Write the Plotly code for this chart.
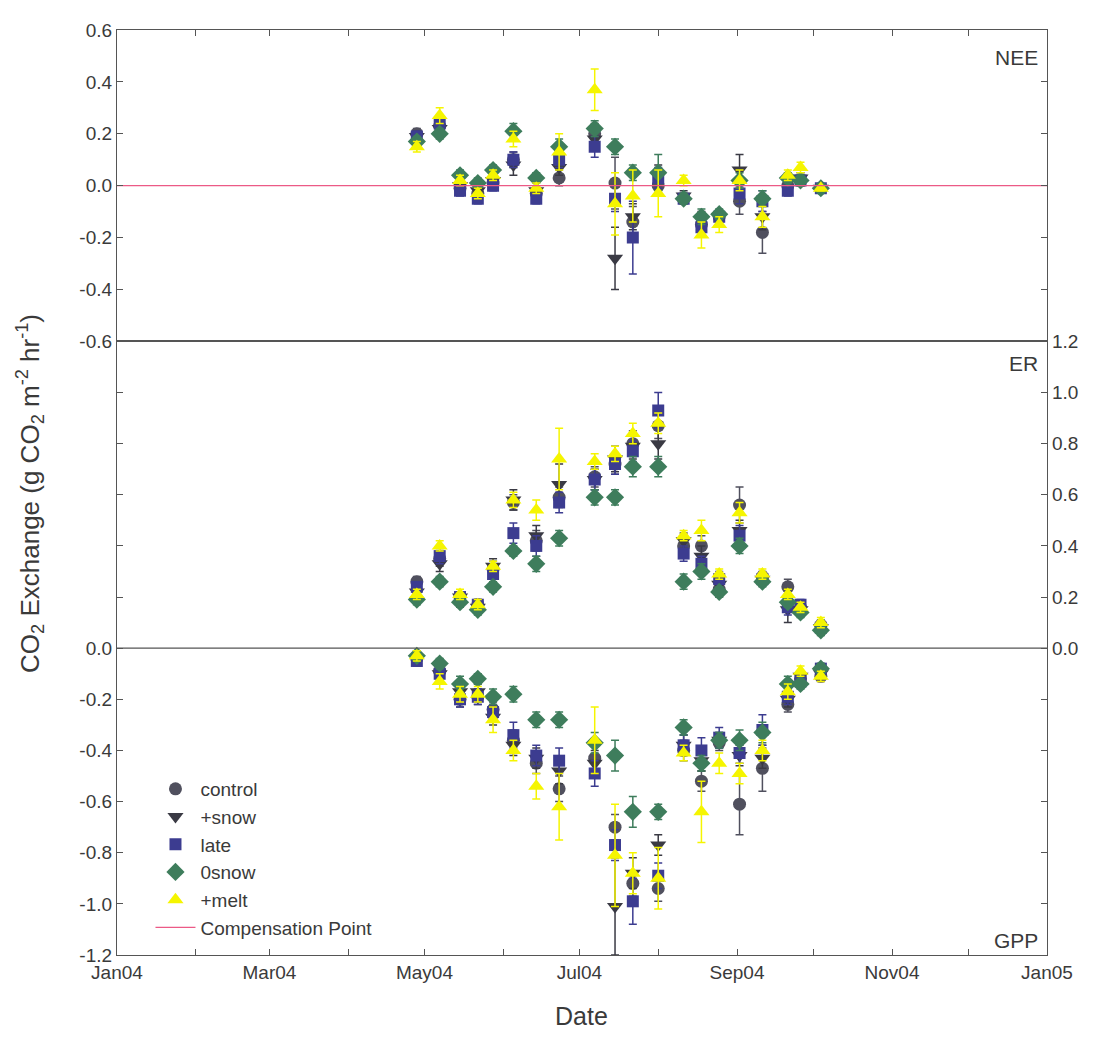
import plotly.graph_objects as go

dates = ["2004-04-28", "2004-05-07", "2004-05-15", "2004-05-22", "2004-05-28",
         "2004-06-05", "2004-06-14", "2004-06-23", "2004-07-07", "2004-07-15",
         "2004-07-22", "2004-08-01", "2004-08-11", "2004-08-18", "2004-08-25",
         "2004-09-02", "2004-09-11", "2004-09-21", "2004-09-26", "2004-10-04"]

series_names = ["control", "+snow", "late", "0snow", "+melt"]

# NEE (top panel)
nee_control = [0.20, 0.23, -0.01, -0.03, 0.01, 0.10, -0.03, 0.03, 0.20, 0.01, -0.14, 0.00, -0.05, -0.15, -0.12, -0.06, -0.18, 0.00, 0.02, -0.01]
nee_snow = [0.19, 0.22, 0.00, -0.02, 0.02, 0.08, -0.02, 0.07, 0.18, -0.28, -0.12, 0.04, -0.04, -0.13, -0.12, 0.06, -0.12, 0.02, 0.03, -0.01]
nee_late = [0.19, 0.24, -0.02, -0.05, 0.00, 0.10, -0.05, 0.10, 0.15, -0.05, -0.20, 0.03, -0.05, -0.16, -0.12, -0.03, -0.06, -0.02, 0.02, -0.01]
nee_0snow = [0.17, 0.20, 0.04, 0.01, 0.06, 0.21, 0.03, 0.15, 0.22, 0.15, 0.05, 0.05, -0.05, -0.12, -0.11, 0.02, -0.05, 0.03, 0.02, -0.01]
nee_melt = [0.15, 0.27, 0.02, -0.03, 0.04, 0.18, -0.01, 0.13, 0.37, -0.07, -0.04, -0.03, 0.02, -0.19, -0.15, 0.02, -0.12, 0.04, 0.07, -0.01]

nee_err_control = [0.02, 0.02, 0.02, 0.02, 0.02, 0.03, 0.02, 0.03, 0.04, 0.10, 0.06, 0.03, 0.02, 0.03, 0.02, 0.05, 0.08, 0.02, 0.02, 0.01]
nee_err_snow = [0.02, 0.03, 0.02, 0.02, 0.02, 0.04, 0.02, 0.03, 0.04, 0.12, 0.05, 0.04, 0.02, 0.03, 0.02, 0.06, 0.05, 0.02, 0.02, 0.01]
nee_err_late = [0.02, 0.02, 0.02, 0.02, 0.02, 0.03, 0.02, 0.03, 0.04, 0.05, 0.14, 0.04, 0.02, 0.03, 0.02, 0.04, 0.04, 0.02, 0.02, 0.01]
nee_err_0snow = [0.02, 0.02, 0.02, 0.02, 0.02, 0.03, 0.02, 0.03, 0.03, 0.03, 0.03, 0.07, 0.02, 0.03, 0.02, 0.03, 0.03, 0.02, 0.02, 0.01]
nee_err_melt = [0.02, 0.03, 0.02, 0.02, 0.02, 0.03, 0.02, 0.07, 0.08, 0.12, 0.10, 0.09, 0.02, 0.05, 0.03, 0.04, 0.04, 0.02, 0.02, 0.01]

# ER (bottom panel, positive)
er_control = [0.26, 0.35, 0.20, 0.17, 0.31, 0.57, 0.42, 0.59, 0.67, 0.72, 0.80, 0.87, 0.40, 0.40, 0.23, 0.56, 0.28, 0.24, 0.16, 0.09]
er_snow = [0.22, 0.33, 0.20, 0.16, 0.32, 0.58, 0.44, 0.64, 0.66, 0.74, 0.79, 0.80, 0.42, 0.36, 0.25, 0.46, 0.27, 0.15, 0.15, 0.08]
er_late = [0.24, 0.36, 0.20, 0.17, 0.29, 0.45, 0.40, 0.57, 0.66, 0.72, 0.77, 0.93, 0.37, 0.33, 0.27, 0.44, 0.27, 0.16, 0.17, 0.08]
er_0snow = [0.19, 0.26, 0.18, 0.15, 0.24, 0.38, 0.33, 0.43, 0.59, 0.59, 0.71, 0.71, 0.26, 0.30, 0.22, 0.40, 0.26, 0.18, 0.14, 0.07]
er_melt = [0.21, 0.40, 0.21, 0.17, 0.32, 0.58, 0.54, 0.74, 0.73, 0.76, 0.84, 0.88, 0.44, 0.46, 0.29, 0.53, 0.29, 0.21, 0.16, 0.10]

er_err_control = [0.02, 0.03, 0.02, 0.02, 0.03, 0.03, 0.04, 0.04, 0.04, 0.04, 0.05, 0.05, 0.03, 0.04, 0.03, 0.07, 0.02, 0.03, 0.02, 0.02]
er_err_snow = [0.02, 0.03, 0.02, 0.02, 0.03, 0.04, 0.04, 0.08, 0.04, 0.05, 0.05, 0.06, 0.03, 0.04, 0.03, 0.04, 0.02, 0.05, 0.02, 0.02]
er_err_late = [0.02, 0.03, 0.02, 0.02, 0.02, 0.04, 0.04, 0.04, 0.04, 0.04, 0.04, 0.07, 0.03, 0.03, 0.03, 0.04, 0.02, 0.03, 0.02, 0.02]
er_err_0snow = [0.02, 0.02, 0.02, 0.02, 0.02, 0.02, 0.03, 0.03, 0.03, 0.03, 0.04, 0.04, 0.03, 0.03, 0.02, 0.03, 0.02, 0.02, 0.02, 0.02]
er_err_melt = [0.02, 0.02, 0.02, 0.02, 0.02, 0.03, 0.04, 0.12, 0.03, 0.03, 0.04, 0.04, 0.02, 0.04, 0.02, 0.04, 0.02, 0.02, 0.02, 0.02]

# GPP (bottom panel, negative)
gpp_control = [-0.04, -0.09, -0.20, -0.19, -0.24, -0.36, -0.45, -0.55, -0.43, -0.70, -0.92, -0.94, -0.40, -0.52, -0.37, -0.61, -0.47, -0.22, -0.12, -0.11]
gpp_snow = [-0.04, -0.10, -0.17, -0.17, -0.27, -0.38, -0.43, -0.48, -0.45, -1.01, -0.88, -0.77, -0.38, -0.44, -0.36, -0.42, -0.43, -0.20, -0.11, -0.10]
gpp_late = [-0.05, -0.10, -0.20, -0.19, -0.25, -0.34, -0.42, -0.44, -0.49, -0.77, -0.99, -0.89, -0.38, -0.40, -0.35, -0.41, -0.32, -0.19, -0.13, -0.08]
gpp_0snow = [-0.03, -0.06, -0.14, -0.12, -0.19, -0.18, -0.28, -0.28, -0.37, -0.42, -0.64, -0.64, -0.31, -0.45, -0.36, -0.36, -0.33, -0.14, -0.14, -0.08]
gpp_melt = [-0.03, -0.13, -0.18, -0.18, -0.28, -0.40, -0.54, -0.62, -0.36, -0.81, -0.88, -0.90, -0.41, -0.64, -0.45, -0.49, -0.40, -0.17, -0.09, -0.11]

gpp_err_control = [0.02, 0.02, 0.03, 0.03, 0.03, 0.04, 0.04, 0.05, 0.05, 0.05, 0.05, 0.05, 0.04, 0.04, 0.03, 0.12, 0.09, 0.03, 0.02, 0.02]
gpp_err_snow = [0.02, 0.02, 0.03, 0.03, 0.03, 0.04, 0.04, 0.05, 0.05, 0.19, 0.06, 0.04, 0.04, 0.04, 0.03, 0.04, 0.04, 0.03, 0.02, 0.02]
gpp_err_late = [0.02, 0.02, 0.03, 0.03, 0.03, 0.05, 0.04, 0.05, 0.05, 0.06, 0.09, 0.05, 0.04, 0.05, 0.04, 0.04, 0.06, 0.03, 0.02, 0.02]
gpp_err_0snow = [0.02, 0.02, 0.03, 0.02, 0.03, 0.03, 0.03, 0.03, 0.04, 0.06, 0.06, 0.03, 0.03, 0.03, 0.03, 0.04, 0.04, 0.03, 0.02, 0.02]
gpp_err_melt = [0.02, 0.03, 0.03, 0.03, 0.05, 0.04, 0.05, 0.13, 0.13, 0.20, 0.08, 0.12, 0.03, 0.12, 0.04, 0.04, 0.04, 0.03, 0.02, 0.02]

comp_x = ["2004-01-01", "2005-01-01"]
comp_y = [0, 0]

x_tickvals = ["2004-01-01", "2004-02-01", "2004-03-01", "2004-04-01", "2004-05-01", "2004-06-01",
              "2004-07-01", "2004-08-01", "2004-09-01", "2004-10-01", "2004-11-01", "2004-12-01", "2005-01-01"]
x_ticktext = ["Jan04", "", "Mar04", "", "May04", "", "Jul04", "", "Sep04", "", "Nov04", "", "Jan05"]

nee_ticks = [-0.6, -0.4, -0.2, 0.0, 0.2, 0.4, 0.6]
nee_labels = ["-0.6", "-0.4", "-0.2", "0.0", "0.2", "0.4", "0.6"]
gpp_ticks = [-1.2, -1.0, -0.8, -0.6, -0.4, -0.2, 0.0, 0.2, 0.4, 0.6, 0.8, 1.0]
gpp_labels = ["-1.2", "-1.0", "-0.8", "-0.6", "-0.4", "-0.2", "0.0", "", "", "", "", ""]
er_ticks = [-1.0, -0.8, -0.6, -0.4, -0.2, 0.0, 0.2, 0.4, 0.6, 0.8, 1.0, 1.2]
er_labels = ["", "", "", "", "", "0.0", "0.2", "0.4", "0.6", "0.8", "1.0", "1.2"]

nee = [nee_control, nee_snow, nee_late, nee_0snow, nee_melt]
nee_err = [nee_err_control, nee_err_snow, nee_err_late, nee_err_0snow, nee_err_melt]
er = [er_control, er_snow, er_late, er_0snow, er_melt]
er_err = [er_err_control, er_err_snow, er_err_late, er_err_0snow, er_err_melt]
gpp = [gpp_control, gpp_snow, gpp_late, gpp_0snow, gpp_melt]
gpp_err = [gpp_err_control, gpp_err_snow, gpp_err_late, gpp_err_0snow, gpp_err_melt]

colors = ["#50505e", "#3a3a44", "#3c3c90", "#3e7d5c", "#f5f500"]
symbols = ["circle", "triangle-down", "square", "diamond", "triangle-up"]
sizes = [13, 14, 12, 14, 14]

FONT = "Liberation Sans, Arial, sans-serif"
TXT = "#3a3a3a"

fig = go.Figure()

for i, name in enumerate(series_names):
    marker = dict(color=colors[i], symbol=symbols[i], size=sizes[i], line=dict(width=0))
    for j, (vals, errs, xa, ya) in enumerate([(nee[i], nee_err[i], "x2", "y2"),
                                               (er[i], er_err[i], "x", "y3"),
                                               (gpp[i], gpp_err[i], "x", "y")]):
        fig.add_trace(go.Scatter(
            x=dates, y=vals, mode="markers", name=name, legendgroup=name,
            showlegend=(j == 0), marker=marker, xaxis=xa, yaxis=ya,
            error_y=dict(type="data", array=errs, visible=True, color=colors[i],
                         thickness=1.5, width=4),
        ))

fig.add_trace(go.Scatter(x=comp_x, y=comp_y, mode="lines", name="Compensation Point",
                         line=dict(color="#ec5a86", width=1.3), xaxis="x2", yaxis="y2"))

split = 0.6634
axis_common = dict(showline=True, linecolor="#555", linewidth=1.2, ticks="inside",
                   tickcolor="#555", ticklen=6, showgrid=False, zeroline=False,
                   tickfont=dict(family=FONT, size=19, color=TXT))

# page body adds an 8px offset; figure is sized so the plot area lands on the reference's pixels
fig.update_layout(
    width=1083, height=1023,
    margin=dict(l=109, r=39, t=17, b=76),
    paper_bgcolor="white", plot_bgcolor="white",
    font=dict(family=FONT, color=TXT),
    xaxis=dict(axis_common, type="date", range=["2004-01-01", "2005-01-01"],
               tickvals=x_tickvals, ticktext=x_ticktext, anchor="y", mirror=True,
               domain=[0, 1]),
    xaxis2=dict(axis_common, type="date", range=["2004-01-01", "2005-01-01"],
                tickvals=x_tickvals, showticklabels=False, anchor="y2", side="top",
                mirror=True, matches="x", domain=[0, 1]),
    yaxis=dict(axis_common, range=[-1.2, 1.2], domain=[0, split], tickvals=gpp_ticks,
               ticktext=gpp_labels, anchor="x"),
    yaxis3=dict(axis_common, range=[-1.2, 1.2], overlaying="y", side="right",
                tickvals=er_ticks, ticktext=er_labels, anchor="x"),
    yaxis2=dict(axis_common, range=[-0.6, 0.6], domain=[split, 1], tickvals=nee_ticks,
                ticktext=nee_labels, anchor="x2", mirror="ticks"),
    legend=dict(x=0.036, y=0.2, xanchor="left", yanchor="top", bgcolor="rgba(0,0,0,0)",
                font=dict(family=FONT, size=19, color=TXT), tracegroupgap=0,
                itemwidth=40),
    showlegend=True,
)

fig.add_shape(type="line", xref="x domain", yref="y", x0=0, x1=1, y0=0, y1=0,
              line=dict(color="#555", width=1.2))

ann = dict(showarrow=False, font=dict(family=FONT, size=21, color=TXT))
fig.add_annotation(ann, text="NEE", xref="paper", yref="paper", x=0.993, y=0.97,
                   xanchor="right", yanchor="middle")
fig.add_annotation(ann, text="ER", xref="paper", yref="paper", x=0.993, y=0.639,
                   xanchor="right", yanchor="middle")
fig.add_annotation(ann, text="GPP", xref="paper", yref="paper", x=0.993, y=0.016,
                   xanchor="right", yanchor="middle")
fig.add_annotation(showarrow=False, text="Date", xref="paper", yref="paper",
                   x=0.4995, y=-0.0655, xanchor="center", yanchor="middle",
                   font=dict(family=FONT, size=25, color=TXT))
fig.add_annotation(showarrow=False,
                   text="CO<sub>2</sub> Exchange (g CO<sub>2</sub> m<sup>-2</sup> hr<sup>-1</sup>)",
                   xref="paper", yref="paper", x=-0.093, y=0.499, textangle=-90,
                   xanchor="center", yanchor="middle",
                   font=dict(family=FONT, size=26, color=TXT))

fig.write_html("out.html")
